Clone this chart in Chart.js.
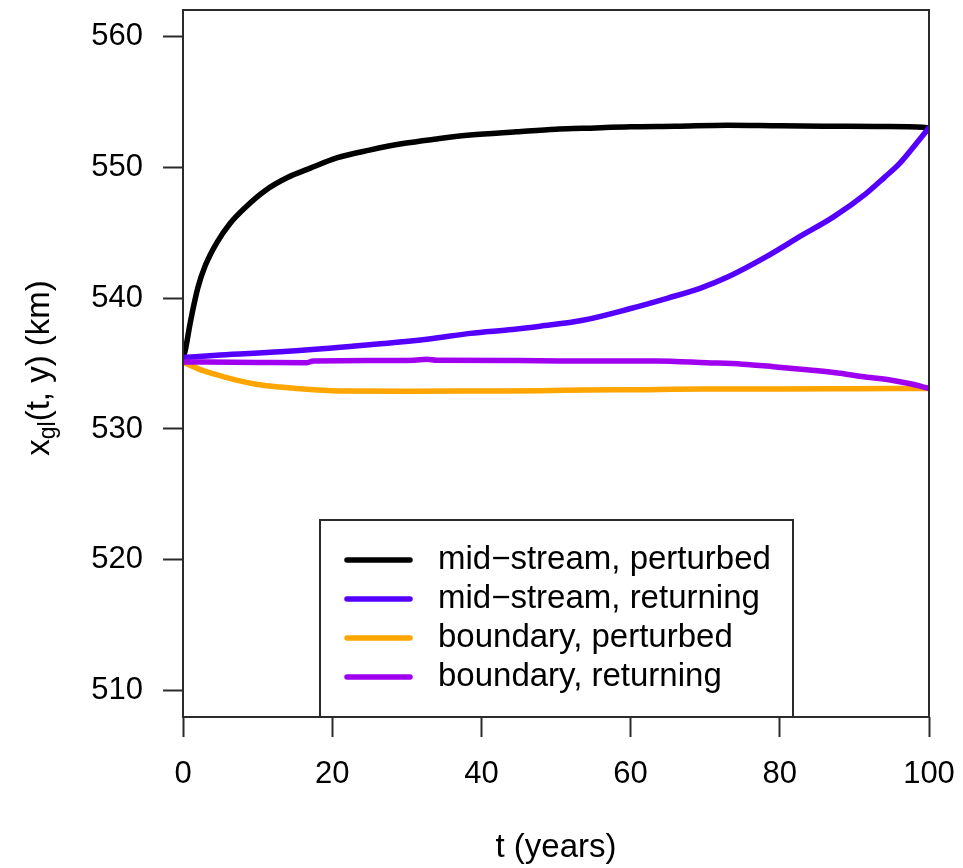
<!DOCTYPE html>
<html>
<head>
<meta charset="utf-8">
<title>Grounding line position</title>
<script src="https://cdn.jsdelivr.net/npm/chart.js@4.4.0/dist/chart.umd.min.js"></script>
<style>
  html, body { margin: 0; padding: 0; background: #ffffff; }
  canvas { display: block; }
</style>
</head>
<body>
<canvas id="chart" width="963" height="868"></canvas>
<script>
// Axis ticks
const xTicks = [0, 20, 40, 60, 80, 100];
const yTicks = [510, 520, 530, 540, 550, 560];

// Series names and colours
const seriesNames = ['mid\u2212stream, perturbed', 'mid\u2212stream, returning', 'boundary, perturbed', 'boundary, returning'];
const seriesColors = ['#000000', '#5500ff', '#ffa500', '#a000f0'];

// Mid-stream, perturbed: grounding line position (km) vs time (years)
const tMidPerturbed = [0, 0.3, 1, 2, 3, 4.5, 6.3, 8.5, 11, 14, 17, 20.6, 25, 29.5, 34, 38.5, 44.7, 50, 53.6, 60, 66, 73, 80, 87, 93, 99.2, 100];
const xMidPerturbed = [535.4, 536.0, 538.2, 540.8, 542.5, 544.2, 545.7, 547.0, 548.2, 549.2, 549.9, 550.7, 551.3, 551.8, 552.15, 552.45, 552.7, 552.9, 552.96, 553.08, 553.12, 553.2, 553.15, 553.12, 553.1, 553.04, 553.0];

// Mid-stream, returning
const tMidReturning = [0, 5, 13, 21.9, 32.7, 38.5, 44.2, 47.9, 53.6, 60, 65, 69.3, 73, 78.2, 83, 87.2, 91.6, 94, 96.1, 98.3, 100];
const xMidReturning = [535.45, 535.65, 535.9, 536.28, 536.85, 537.3, 537.6, 537.85, 538.3, 539.2, 540.0, 540.74, 541.6, 543.16, 544.8, 546.2, 548.0, 549.2, 550.3, 551.8, 553.0];

// Boundary, perturbed
const tBoundPerturbed = [0, 1, 2.7, 4.1, 7, 10, 13, 17.5, 22, 30, 40, 48, 54, 62, 70, 80, 90, 100];
const xBoundPerturbed = [535.1, 534.85, 534.45, 534.2, 533.75, 533.4, 533.2, 533.0, 532.9, 532.88, 532.9, 532.92, 532.98, 533.0, 533.05, 533.06, 533.08, 533.1];

// Boundary, returning
const tBoundReturning = [0, 10, 16.6, 17.5, 25, 31, 32.7, 34, 45, 50.5, 63.5, 70.2, 75, 79.1, 84, 88.1, 91, 94.8, 97.5, 100];
const xBoundReturning = [535.12, 535.08, 535.06, 535.2, 535.22, 535.25, 535.32, 535.24, 535.22, 535.2, 535.2, 535.06, 534.95, 534.76, 534.5, 534.25, 534.0, 533.74, 533.45, 533.1];

const FONT = "'Liberation Sans', Arial, Helvetica, sans-serif";
const AXIS_COLOR = '#2b2b2b';
const TICK_SIZE = 31;
const LABEL_SIZE = 33;

function pairs(ts, vs) {
  return ts.map((t, i) => ({ x: t, y: vs[i] }));
}

const seriesData = [
  pairs(tMidPerturbed, xMidPerturbed),
  pairs(tMidReturning, xMidReturning),
  pairs(tBoundPerturbed, xBoundPerturbed),
  pairs(tBoundReturning, xBoundReturning)
];

const datasets = seriesData.map((d, i) => ({
  label: seriesNames[i],
  data: d,
  borderColor: seriesColors[i],
  backgroundColor: seriesColors[i],
  borderWidth: 5.5,
  pointRadius: 0,
  fill: false,
  cubicInterpolationMode: 'monotone',
  borderCapStyle: 'round',
  borderJoinStyle: 'round',
  order: seriesNames.length - i
}));

// Frame around the plotting region
const framePlugin = {
  id: 'frame',
  afterDraw(chart) {
    const { ctx, chartArea: a } = chart;
    ctx.save();
    ctx.strokeStyle = AXIS_COLOR;
    ctx.lineWidth = 2;
    ctx.strokeRect(a.left, a.top, a.right - a.left, a.bottom - a.top);
    ctx.restore();
  }
};

// Boxed legend in the lower part of the plot
const boxLegendPlugin = {
  id: 'boxLegend',
  afterDraw(chart) {
    const { ctx } = chart;
    const box = { left: 320, top: 520, right: 793, bottom: 717 };
    const rowY0 = 560, rowStep = 39;
    ctx.save();
    ctx.fillStyle = '#ffffff';
    ctx.fillRect(box.left, box.top, box.right - box.left, box.bottom - box.top);
    ctx.strokeStyle = AXIS_COLOR;
    ctx.lineWidth = 2;
    ctx.strokeRect(box.left, box.top, box.right - box.left, box.bottom - box.top);
    chart.data.datasets.forEach((ds, i) => {
      const y = rowY0 + i * rowStep;
      ctx.strokeStyle = ds.borderColor;
      ctx.lineWidth = 5.5;
      ctx.lineCap = 'round';
      ctx.beginPath();
      ctx.moveTo(347, y);
      ctx.lineTo(410, y);
      ctx.stroke();
      ctx.fillStyle = '#000000';
      ctx.font = LABEL_SIZE + 'px ' + FONT;
      ctx.textAlign = 'left';
      ctx.textBaseline = 'middle';
      ctx.fillText(ds.label, 438, y);
    });
    ctx.restore();
  }
};

// Y axis title with subscript: x_gl(t, y) (km)
const yTitlePlugin = {
  id: 'yTitle',
  afterDraw(chart) {
    const { ctx } = chart;
    const main = LABEL_SIZE, sub = 23;
    const parts = [
      { text: 'x', size: main, dy: 0 },
      { text: 'gl', size: sub, dy: 9 },
      { text: '(t, y) (km)', size: main, dy: 0 }
    ];
    ctx.save();
    let total = 0;
    parts.forEach(p => { ctx.font = p.size + 'px ' + FONT; p.w = ctx.measureText(p.text).width; total += p.w; });
    ctx.translate(40, 368);
    ctx.rotate(-Math.PI / 2);
    ctx.fillStyle = '#000000';
    ctx.textAlign = 'left';
    ctx.textBaseline = 'middle';
    let x = -total / 2;
    parts.forEach(p => {
      ctx.font = p.size + 'px ' + FONT;
      ctx.fillText(p.text, x, p.dy);
      x += p.w;
    });
    ctx.restore();
  }
};

function zeroPadding(s) {
  s.paddingTop = 0;
  s.paddingBottom = 0;
  s.paddingLeft = 0;
  s.paddingRight = 0;
}

new Chart(document.getElementById('chart'), {
  type: 'line',
  data: { datasets },
  options: {
    responsive: false,
    animation: false,
    layout: { padding: { top: 10, right: 34, left: 0, bottom: 0 } },
    plugins: {
      legend: { display: false },
      tooltip: { enabled: false },
      title: { display: false }
    },
    scales: {
      x: {
        type: 'linear',
        min: 0,
        max: 100,
        afterBuildTicks: s => { s.ticks = xTicks.map(v => ({ value: v })); },
        afterFit: s => { s.height = 151; zeroPadding(s); },
        grid: { display: true, drawOnChartArea: false, drawTicks: true, tickLength: 20, tickColor: AXIS_COLOR, tickWidth: 2 },
        border: { display: false },
        ticks: { color: '#000000', font: { family: FONT, size: TICK_SIZE }, padding: 19, maxRotation: 0, autoSkip: false },
        title: { display: true, text: 't (years)', color: '#000000', font: { family: FONT, size: LABEL_SIZE }, padding: { top: 0, bottom: 0 } }
      },
      y: {
        type: 'linear',
        min: 508,
        max: 562,
        afterBuildTicks: s => { s.ticks = yTicks.map(v => ({ value: v })); },
        afterFit: s => { s.width = 183; zeroPadding(s); },
        grid: { display: true, drawOnChartArea: false, drawTicks: true, tickLength: 20, tickColor: AXIS_COLOR, tickWidth: 2 },
        border: { display: false },
        ticks: { color: '#000000', font: { family: FONT, size: TICK_SIZE }, padding: 20, autoSkip: false }
      }
    }
  },
  plugins: [framePlugin, boxLegendPlugin, yTitlePlugin]
});
</script>
</body>
</html>
